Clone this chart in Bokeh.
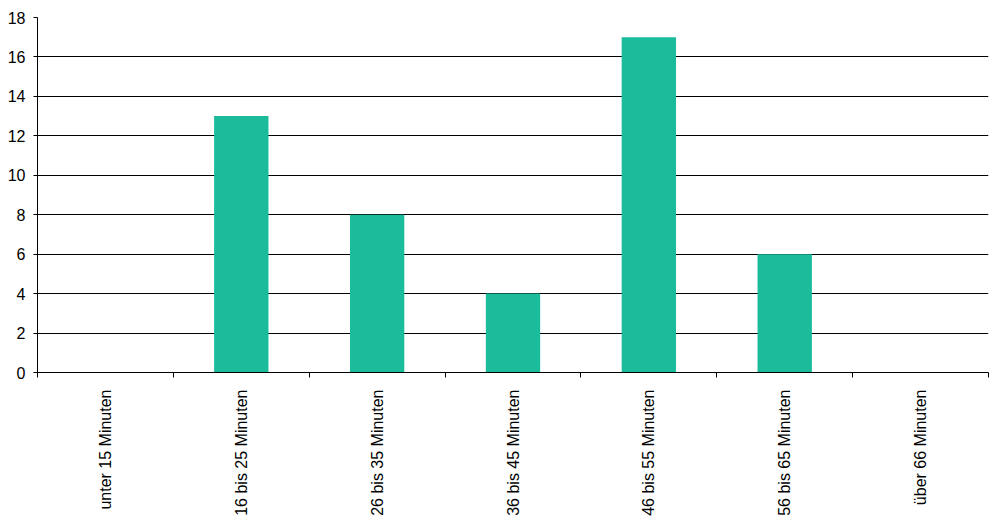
import math
from bokeh.plotting import figure
from bokeh.models import FixedTicker, Range1d
from bokeh.embed import file_html
from bokeh.resources import INLINE

categories = ["unter 15 Minuten", "16 bis 25 Minuten", "26 bis 35 Minuten",
              "36 bis 45 Minuten", "46 bis 55 Minuten", "56 bis 65 Minuten",
              "über 66 Minuten"]
values = [0, 13, 8, 4, 17, 6, 0]
y_ticks = [0, 2, 4, 6, 8, 10, 12, 14, 16, 18]

n = len(categories)
centers = [i + 0.5 for i in range(n)]

p = figure(width=990, height=521, output_backend="svg", toolbar_location=None,
           x_range=Range1d(0, n), y_range=Range1d(0, 18),
           min_border_left=37, min_border_right=2, min_border_top=17,
           min_border_bottom=149)

p.vbar(x=centers, top=values, width=0.4, color="#1ABC9C", line_color=None)

p.outline_line_color = None
p.background_fill_color = "white"
p.border_fill_color = "white"

p.xgrid.grid_line_color = None
p.ygrid.grid_line_color = "black"
p.ygrid.grid_line_width = 1
p.ygrid.grid_line_alpha = 1

# x axis
p.xaxis.ticker = FixedTicker(ticks=centers, minor_ticks=list(range(n + 1)))
p.xaxis.major_label_overrides = {c: lab for c, lab in zip(centers, categories)}
p.xaxis.major_tick_line_color = None
p.xaxis.minor_tick_line_color = "black"
p.xaxis.minor_tick_out = 5
p.xaxis.minor_tick_in = 0
p.xaxis.axis_line_color = "black"
p.xaxis.major_label_orientation = math.pi / 2
p.xaxis.major_label_text_font = "Liberation Sans"
p.xaxis.major_label_text_font_size = "16px"
p.xaxis.major_label_text_color = "black"
p.xaxis.major_label_standoff = 11

# y axis
p.yaxis.ticker = FixedTicker(ticks=y_ticks)
p.yaxis.minor_tick_line_color = None
p.yaxis.major_tick_out = 4
p.yaxis.major_tick_in = 0
p.yaxis.major_tick_line_color = "black"
p.yaxis.axis_line_color = "black"
p.yaxis.major_label_text_font = "Liberation Sans"
p.yaxis.major_label_text_font_size = "16px"
p.yaxis.major_label_text_color = "black"
p.yaxis.major_label_standoff = 8

open("out.html", "w").write(file_html(p, INLINE))
